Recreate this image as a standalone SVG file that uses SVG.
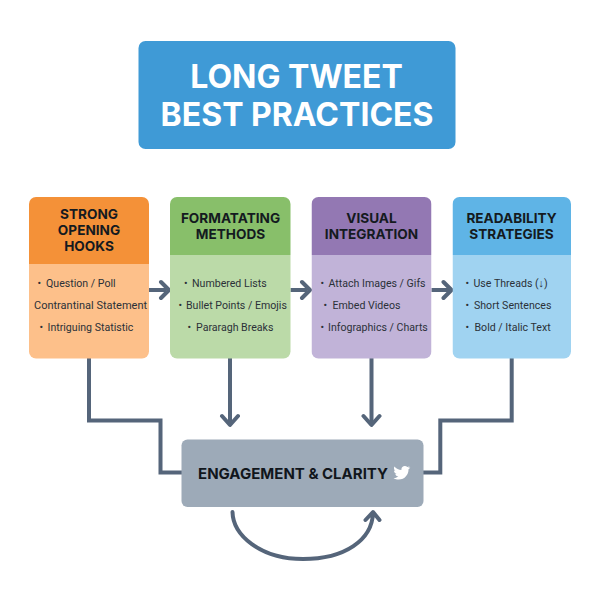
<svg xmlns="http://www.w3.org/2000/svg" width="600" height="600" viewBox="0 0 600 600">
<style>
.h{font-family:"Inter","Liberation Sans",sans-serif;font-weight:700;font-size:13.600px;fill:#141a20;text-anchor:middle}
.b{font-family:"Roboto","Liberation Sans",sans-serif;font-size:10.600px;fill:#2b3138}
.t{font-family:"Inter","Liberation Sans",sans-serif;font-weight:700;font-size:32px;fill:#fff;text-anchor:middle}
.c{fill:none;stroke:#55657a;stroke-width:4}
.a{fill:none;stroke:#55657a;stroke-width:4;stroke-linecap:round;stroke-linejoin:round}
</style>
<defs>
<clipPath id="c1"><rect x="29" y="197" width="120" height="161.500" rx="7"/></clipPath>
<clipPath id="c2"><rect x="170" y="197" width="120.500" height="161.500" rx="7"/></clipPath>
<clipPath id="c3"><rect x="311.500" y="197" width="120" height="161.500" rx="7"/></clipPath>
<clipPath id="c4"><rect x="452.500" y="197" width="118.500" height="161.500" rx="7"/></clipPath>
</defs>
<rect width="600" height="600" fill="#fff"/>
<g id="title">
<rect x="138.500" y="41" width="317" height="108" rx="7" fill="#3f9ad6"/>
<text class="t" x="296.500" y="88">LONG TWEET</text>
<text class="t" x="297" y="126">BEST PRACTICES</text>
</g>
<g id="connectors">
<path class="c" d="M149 290H166M290.500 290H307M431.500 290H449M230 358V423M371.500 358V423"/>
<path class="a" d="M161 282L169 290L161 298M302 282L310 290L302 298M443.500 282L451.500 290L443.500 298M222 416L230 425L238 416M363.500 416L371.500 425L379.500 416"/>
<path class="c" d="M89 358V420.500H160.500V472.500H182M511.700 358V420.500H440.300V472.500H423"/>
<path class="a" d="M232.500 512C233 535 260 559 303 559C345 559 372 540 373 513M365.500 520L373 512L379.500 520"/>
</g>
<g id="node-hooks" clip-path="url(#c1)">
<rect x="29" y="197" width="120" height="67" fill="#f49138"/>
<rect x="29" y="264" width="120" height="95" fill="#fdc08a"/>
<text class="h" x="89" y="219">STRONG</text>
<text class="h" x="89" y="235">OPENING</text>
<text class="h" x="89" y="251">HOOKS</text>
<text class="b" y="287"><tspan x="37.500">•</tspan><tspan x="46">Question / Poll</tspan></text>
<text class="b" x="34" y="309" style="font-size:11px">Contrantinal Statement</text>
<text class="b" y="331"><tspan x="39.500">•</tspan><tspan x="47.500">Intriguing Statistic</tspan></text>
</g>
<g id="node-format" clip-path="url(#c2)">
<rect x="170" y="197" width="121" height="58" fill="#88bf6a"/>
<rect x="170" y="255" width="121" height="104" fill="#bbdaa8"/>
<text class="h" x="230.500" y="223">FORMATATING</text>
<text class="h" x="230.500" y="239">METHODS</text>
<text class="b" y="287"><tspan x="184">•</tspan><tspan x="192">Numbered Lists</tspan></text>
<text class="b" y="309"><tspan x="178.500">•</tspan><tspan x="186">Bullet Points / Emojis</tspan></text>
<text class="b" y="331"><tspan x="187.500">•</tspan><tspan x="196">Pararagh Breaks</tspan></text>
</g>
<g id="node-visual" clip-path="url(#c3)">
<rect x="311.500" y="197" width="120" height="58" fill="#9378b3"/>
<rect x="311.500" y="255" width="120" height="104" fill="#c1b3d8"/>
<text class="h" x="371.500" y="223">VISUAL</text>
<text class="h" x="371.500" y="239">INTEGRATION</text>
<text class="b" y="287"><tspan x="320.500">•</tspan><tspan x="328.500">Attach Images / Gifs</tspan></text>
<text class="b" y="309"><tspan x="323.500">•</tspan><tspan x="332.500">Embed Videos</tspan></text>
<text class="b" y="331"><tspan x="320.500">•</tspan><tspan x="328">Infographics / Charts</tspan></text>
</g>
<g id="node-read" clip-path="url(#c4)">
<rect x="452.500" y="197" width="119" height="58" fill="#5fb4e6"/>
<rect x="452.500" y="255" width="119" height="104" fill="#a0d3f1"/>
<text class="h" x="511.500" y="223">READABILITY</text>
<text class="h" x="511.500" y="239">STRATEGIES</text>
<text class="b" y="287"><tspan x="465.500">•</tspan><tspan x="473.500">Use Threads (↓)</tspan></text>
<text class="b" y="309"><tspan x="465.500">•</tspan><tspan x="474">Short Sentences</tspan></text>
<text class="b" y="331"><tspan x="465.500">•</tspan><tspan x="474.500">Bold / Italic Text</tspan></text>
</g>
<g id="node-engagement">
<rect x="181.500" y="439.500" width="242" height="67.500" rx="6" fill="#9daab8"/>
<text x="293" y="479" font-family="Inter, 'Liberation Sans', sans-serif" font-weight="700" font-size="15px" fill="#11161c" text-anchor="middle">ENGAGEMENT &amp; CLARITY</text>
<path fill="#fff" d="M410 467.500c-.6.3-1.300.5-2 .6.700-.4 1.300-1.100 1.500-1.900-.7.400-1.400.7-2.200.8-.6-.7-1.500-1.100-2.500-1.100-1.900 0-3.400 1.500-3.400 3.400 0 .3 0 .5.100.8-2.800-.1-5.300-1.500-7-3.600-.3.500-.5 1.100-.5 1.700 0 1.200.6 2.200 1.500 2.800-.6 0-1.100-.2-1.500-.4 0 1.700 1.200 3 2.700 3.400-.5.100-1 .2-1.500.1.400 1.300 1.700 2.300 3.200 2.400-1.400 1-3 1.700-4.900 1.500 1.500 1 3.300 1.500 5.200 1.500 6.300 0 9.800-5.200 9.800-9.800v-.4c.7-.5 1.300-1.100 1.800-1.800z"/>
</g>
</svg>
